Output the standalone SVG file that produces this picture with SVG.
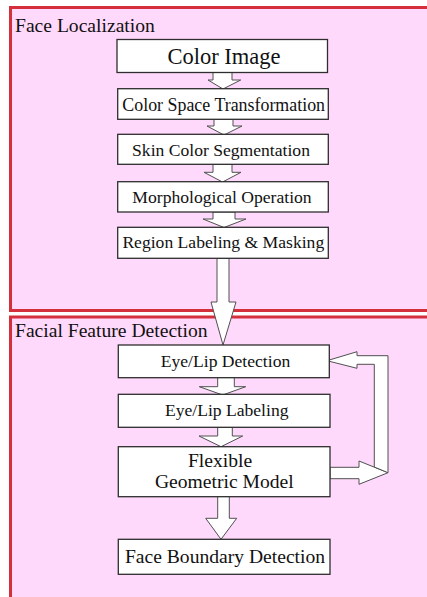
<svg xmlns="http://www.w3.org/2000/svg" width="427" height="597" viewBox="0 0 427 597">
  <style>
    .panel { fill: #ffd9fc; stroke: #d3303c; stroke-width: 3; }
    .title { font-family: "Liberation Serif", "Times New Roman", serif; font-size: 19.6px; fill: #111; }
    .box { fill: #ffffff; stroke: #2e2e2e; stroke-width: 1.3; }
    .lbl { font-family: "Liberation Serif", "Times New Roman", serif; font-size: 17.6px; fill: #111; text-anchor: middle; }
    .lbl-lg { font-size: 19.6px; }
    .arrow { fill: #ffffff; stroke: #505050; stroke-width: 1; stroke-linejoin: miter; }
  </style>
  <rect width="427" height="597" fill="#ffffff"/>

  <!-- stage panels -->
  <g id="panel-localization">
    <rect class="panel" x="10.5" y="7.5" width="430" height="303"/>
    <text class="title" x="15" y="31.5">Face Localization</text>
  </g>
  <g id="panel-feature">
    <rect class="panel" x="10.5" y="317" width="430" height="300"/>
    <text class="title" x="15" y="336.5">Facial Feature Detection</text>
  </g>

  <!-- block-arrow connectors -->
  <g id="connectors">
    <polygon class="arrow" points="213,72 232,72 232,80 240.7,80 223,89 208,80 213,80"/>
    <polygon class="arrow" points="214,119 233,119 233,126 242,126 224,135 207,126 214,126"/>
    <polygon class="arrow" points="213,164 232,164 232,172.3 241,172.3 222.5,182 204,172.3 213,172.3"/>
    <polygon class="arrow" points="213,212 235,212 235,219 246,219 224,227.5 203,219 213,219"/>
    <polygon class="arrow" points="217,258 229,258 229,302 236,302 223,345 211,302 217,302"/>
    <polygon class="arrow" points="217.7,377.5 234.3,377.5 234.3,386.7 245.7,386.7 222.7,395 199.3,386.7 217.7,386.7"/>
    <polygon class="arrow" points="217.7,427 232.3,427 232.3,436 242.7,436 221,446.7 199,436 217.7,436"/>
    <polygon class="arrow" points="217.7,496.5 229.3,496.5 229.3,518.3 236.7,518.3 221,539.3 205.7,518.3 217.7,518.3"/>
    <!-- feedback loop: model back to detection -->
    <polygon class="arrow" points="330,467.3 359,467.3 359,461 388,472.7 359,484.3 359,478.7 330,478.7"/>
    <polygon class="arrow" points="388,472.7 388,355.7 357,355.7 357,351.7 327,360.7 357,368.3 357,364.3 374.3,364.3 374.3,467"/>
  </g>

  <!-- process nodes -->
  <g id="color-image">
    <rect class="box" x="117" y="39.5" width="210.5" height="33"/>
    <text class="lbl" x="224" y="64" style="font-size:22.5px">Color Image</text>
  </g>
  <g id="color-space-transformation">
    <rect class="box" x="117.7" y="88.7" width="210.6" height="30.6"/>
    <text class="lbl" x="223.7" y="110.5" style="font-size:17.9px">Color Space Transformation</text>
  </g>
  <g id="skin-color-segmentation">
    <rect class="box" x="117.7" y="134.3" width="210.6" height="30"/>
    <text class="lbl" x="221" y="155.7">Skin Color Segmentation</text>
  </g>
  <g id="morphological-operation">
    <rect class="box" x="117.7" y="181.7" width="210.6" height="30.3"/>
    <text class="lbl" x="222" y="202.7">Morphological Operation</text>
  </g>
  <g id="region-labeling-masking">
    <rect class="box" x="117.7" y="227.3" width="210.6" height="31"/>
    <text class="lbl" x="223.3" y="248.3">Region Labeling &amp; Masking</text>
  </g>
  <g id="eye-lip-detection">
    <rect class="box" x="118.3" y="345" width="211" height="32.7"/>
    <text class="lbl" x="225.5" y="367.3">Eye/Lip Detection</text>
  </g>
  <g id="eye-lip-labeling">
    <rect class="box" x="118.3" y="394.3" width="211.7" height="33"/>
    <text class="lbl" x="226.7" y="416">Eye/Lip Labeling</text>
  </g>
  <g id="flexible-geometric-model">
    <rect class="box" x="118.3" y="446.7" width="211.7" height="50"/>
    <text class="lbl lbl-lg" x="220" y="466.7">Flexible</text>
    <text class="lbl lbl-lg" x="224.3" y="488.3">Geometric Model</text>
  </g>
  <g id="face-boundary-detection">
    <rect class="box" x="118.3" y="539.3" width="211.7" height="35"/>
    <text class="lbl lbl-lg" x="225" y="562.7">Face Boundary Detection</text>
  </g>
</svg>
